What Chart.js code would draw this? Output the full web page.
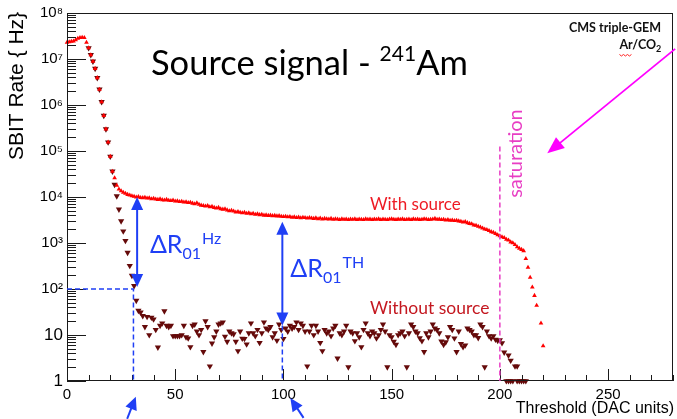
<!DOCTYPE html>
<html>
<head>
<meta charset="utf-8">
<script src="https://cdn.jsdelivr.net/npm/chart.js@4"></script>
<style>
  html, body { margin: 0; padding: 0; background: #fff; }
  canvas { display: block; }
</style>
</head>
<body>
<canvas id="chart" width="677" height="419"></canvas>
<script>
// SBIT rate (Hz) vs threshold (DAC units), one point per DAC unit
const withSourceStart = 0;
const withSourceRate = [
  23000000, 23500000, 24000000, 24500000, 26000000, 28000000, 29000000, 29500000, 29000000, 23000000,
  17400000, 12300000, 8900000, 6200000, 3900000, 2190000, 1170000, 590000, 300000, 155000,
  76000, 36000, 26000, 17800, 14800, 13500, 12600, 12000, 11300, 11000,
  10600, 10300, 9900, 10200, 9700, 9600, 9800, 9400, 9500, 9100,
  9300, 9000, 8800, 9100, 8700, 8500, 8800, 8400, 8300, 8500,
  8100, 8200, 7900, 8000, 7700, 7800, 7500, 7600, 7300, 7100,
  7400, 6900, 6600, 6500, 6300, 6500, 6100, 6200, 5900, 5700,
  5900, 5500, 5400, 5500, 5200, 5000, 5100, 4900, 4700, 4800,
  4600, 4500, 4600, 4400, 4500, 4300, 4400, 4200, 4300, 4100,
  4200, 4000, 4050, 3950, 4000, 3900, 3950, 3850, 3900, 3800,
  3750, 3800, 3700, 3750, 3600, 3700, 3550, 3650, 3500, 3600,
  3550, 3450, 3550, 3450, 3400, 3500, 3350, 3450, 3300, 3400,
  3350, 3300, 3400, 3250, 3350, 3300, 3200, 3350, 3250, 3300,
  3200, 3300, 3250, 3350, 3200, 3300, 3250, 3200, 3350, 3250,
  3300, 3200, 3300, 3250, 3350, 3200, 3300, 3250, 3200, 3300,
  3350, 3250, 3200, 3300, 3250, 3350, 3200, 3250, 3300, 3200,
  3350, 3250, 3300, 3200, 3250, 3350, 3300, 3200, 3250, 3300,
  3400, 3250, 3300, 3200, 3250, 3150, 3200, 3100, 3150, 3050,
  3100, 3000, 2950, 2850, 2900, 2750, 2650, 2600, 2450, 2400,
  2300, 2200, 2100, 2000, 1950, 1850, 1750, 1700, 1600, 1500,
  1420, 1350, 1300, 1200, 1150, 1050, 1000, 920, 820, 760,
  720, 676, 457, 295, 178, 110, 72, 44, null, 18,
  5.8
];

const noSourceStart = 10;
const noSourceRate = [
  17400000, 12300000, 8900000, 6200000, 3900000, 2190000, 1170000, 590000, 300000, 155000,
  76000, 36000, 18600, 10500, 5400, 3000, 1800, 1120, 620, 320,
  195, 117, 56, 34,
  31, 26, 15, 25, 10, 24, 22, 13, 5.4, 16,
  18, 33, 16, 15, 16, 9.5, 9.5, 9.5, 9.5, 10,
  16, 9, 8.5, 5.5, 16, 17, 12, 10, 13, 4.3,
  20, 15, 2.1, 6.6, 9, 12, 17, 18, 19, 9.3,
  7.2, 12, 11, 10.5, 7.2, 4.5, 12, 8.4, 8.3, 6.3,
  11, 18, 11, 9.5, 13, 6.8, 11, 19, 14, 13,
  15, 9, 11, 7.6, 17, 13, 8.3, 14, 12, 16,
  14, 15, 19, 13, 18, 16, 12, 2.1, 12, 16,
  10, 16, 12, 6.8, 4.5, 13, 11, 12, 9.5, 14,
  16, 3.1, 11, 10, 12, 16, 2.0, 12, 11, 7.4,
  11, 9, 5.5, 13, 18, 11, 9.6, 12, 11, 8.5,
  10, 13, 17, 12, 2.0, 10, 9, 7.2, 6.2, 10,
  11, 12, 9.5, 2.0, 11, 17, 15, 12, 11, 8.6,
  7.4, 4.3, 11, 9, 12, 17, 14, 13, 11, 7.3,
  6.2, 7, 9, 15, 13, 8.5, 4.3, 12, 6.4, 5.5,
  6, 14, 13, 12, 10, 10, 8.7, 17, 15, 2.0,
  12, 9.5, 8.5, 9.5, 8, 7.5, 7.8, 6.7, 4.2, null,
  3.6, 2.8, null, 2.1, 2.1
];
// thresholds where the rate without source sits at the 1 Hz floor
const noSourceFloor = [203, 204, 205, 206, 208, 209, 210, 211, 212];

const xTicks = [0, 50, 100, 150, 200, 250];
const yTicks = [1, 10, 100, 1e3, 1e4, 1e5, 1e6, 1e7, 1e8];
const yTickLabels = ['1', '10', '10²', '10³', '10⁴', '10⁵', '10⁶', '10⁷', '10⁸'];

const BLUE = '#1f3ff5';
const MAGENTA = '#ff00ff';
const PINK = '#e83ec4';

function toPoints(start, rates) {
  return rates
    .map((r, i) => ({ x: start + i, y: r }))
    .filter(p => p.y != null);
}

const noSourcePoints = toPoints(noSourceStart, noSourceRate)
  .concat(noSourceFloor.map(t => ({ x: t, y: 1 })));

function arrowHead(ctx, fromX, fromY, toX, toY, len, half) {
  const ang = Math.atan2(toY - fromY, toX - fromX);
  const bx = toX - len * Math.cos(ang);
  const by = toY - len * Math.sin(ang);
  ctx.beginPath();
  ctx.moveTo(toX, toY);
  ctx.lineTo(bx + half * Math.sin(ang), by - half * Math.cos(ang));
  ctx.lineTo(bx - half * Math.sin(ang), by + half * Math.cos(ang));
  ctx.closePath();
  ctx.fill();
}

function arrow(ctx, x0, y0, x1, y1, color, width, len, half) {
  const ang = Math.atan2(y1 - y0, x1 - x0);
  ctx.strokeStyle = color;
  ctx.fillStyle = color;
  ctx.lineWidth = width;
  ctx.beginPath();
  ctx.moveTo(x0, y0);
  ctx.lineTo(x1 - (len - 2) * Math.cos(ang), y1 - (len - 2) * Math.sin(ang));
  ctx.stroke();
  arrowHead(ctx, x0, y0, x1, y1, len, half);
}

function doubleArrow(ctx, x, yTop, yBottom) {
  ctx.strokeStyle = BLUE;
  ctx.fillStyle = BLUE;
  ctx.lineWidth = 2;
  ctx.beginPath();
  ctx.moveTo(x, yTop + 10);
  ctx.lineTo(x, yBottom - 10);
  ctx.stroke();
  arrowHead(ctx, x, yBottom, x, yTop, 13, 6);
  arrowHead(ctx, x, yTop, x, yBottom, 13, 6);
}

function deltaLabel(ctx, left, base, sup) {
  ctx.fillStyle = BLUE;
  ctx.font = '25px Lato';
  ctx.fillText('ΔR', left, base);
  const w = ctx.measureText('ΔR').width;
  ctx.font = '16px Lato';
  ctx.fillText('01', left + w, base + 6);
  const w2 = ctx.measureText('01').width;
  ctx.fillText(sup, left + w + w2 + 1, base - 9);
}

// ROOT-style frame with inward tick marks
const frameAndTicks = {
  id: 'frameAndTicks',
  afterDatasetsDraw(chart) {
    const { ctx, chartArea: a, scales: { x, y } } = chart;
    ctx.save();
    ctx.strokeStyle = '#1a1a1a';
    ctx.lineWidth = 1;
    ctx.beginPath();
    for (let v = 0; v <= 280; v += 10) {
      const p = Math.round(x.getPixelForValue(v)) + 0.5;
      const len = v % 50 === 0 ? 12 : 6;
      ctx.moveTo(p, a.bottom);
      ctx.lineTo(p, a.bottom - len);
    }
    for (let d = 0; d <= 8; d++) {
      for (let m = 1; m <= 9; m++) {
        const v = m * Math.pow(10, d);
        if (v > 1e8) break;
        const p = Math.round(y.getPixelForValue(v)) + 0.5;
        ctx.moveTo(a.left, p);
        ctx.lineTo(a.left + (m === 1 ? 19 : 9), p);
      }
    }
    ctx.stroke();
    ctx.strokeRect(Math.round(a.left) + 0.5, Math.round(a.top) + 0.5,
      Math.round(a.right - a.left) - 1, Math.round(a.bottom - a.top) - 1);
    ctx.restore();
  }
};

const annotations = {
  id: 'annotations',
  afterDraw(chart) {
    const { ctx, scales: { x, y } } = chart;
    const px = v => x.getPixelForValue(v);
    const py = v => y.getPixelForValue(v);
    ctx.save();

    // dashed guides
    ctx.setLineDash([5, 3]);
    ctx.lineWidth = 1.5;
    ctx.strokeStyle = BLUE;
    ctx.beginPath();
    ctx.moveTo(px(0), py(100));
    ctx.lineTo(px(30.7), py(100));
    ctx.lineTo(px(30.7), py(1));
    ctx.moveTo(px(99.5), py(16));
    ctx.lineTo(px(99.5), py(1));
    ctx.stroke();
    ctx.strokeStyle = PINK;
    ctx.beginPath();
    ctx.moveTo(px(200), py(1.25e5));
    ctx.lineTo(px(200), py(1));
    ctx.stroke();
    ctx.setLineDash([]);

    // arrows
    doubleArrow(ctx, px(32.4), py(1e4), py(110));
    doubleArrow(ctx, px(99.5), py(2900), py(16));
    arrow(ctx, px(27.8), py(0.151), px(31.8), py(0.457), BLUE, 2, 13, 6);
    arrow(ctx, px(109.3), py(0.158), px(103.2), py(0.427), BLUE, 2, 13, 6);
    arrow(ctx, px(281), py(1.66e7), px(221.9), py(8.9e4), MAGENTA, 1.8, 17, 7);

    // title
    ctx.textAlign = 'left';
    ctx.textBaseline = 'alphabetic';
    ctx.fillStyle = '#000';
    let tx = px(38.8);
    const ty = py(4.4e6);
    ctx.font = '34.5px Lato';
    ctx.fillText('Source signal - ', tx, ty);
    tx += ctx.measureText('Source signal - ').width;
    ctx.font = '21px Lato';
    ctx.fillText('241', tx, ty - 14);
    tx += ctx.measureText('241').width;
    ctx.font = '34.5px Lato';
    ctx.fillText('Am', tx, ty);

    // series labels
    ctx.font = '17px Lato';
    ctx.fillStyle = '#ee1b24';
    ctx.fillText('With source', px(140), py(5100));
    ctx.font = '17.5px Lato';
    ctx.fillStyle = '#c41820';
    ctx.fillText('Without source', px(140), py(28));

    deltaLabel(ctx, px(38.3), py(621), 'Hz');
    deltaLabel(ctx, px(103.2), py(185), 'TH');

    // detector label
    ctx.fillStyle = '#111';
    ctx.textAlign = 'right';
    ctx.font = 'bold 12.5px Lato';
    ctx.fillText('CMS triple-GEM', px(274.5), py(3.81e7));
    const right = px(274.6), base = py(1.61e7);
    ctx.font = 'bold 9px Lato';
    const w2 = ctx.measureText('2').width;
    ctx.fillText('2', right, base + 3);
    ctx.font = 'bold 12.5px Lato';
    ctx.fillText('Ar/CO', right - w2, base);
    const start = right - w2 - ctx.measureText('Ar/CO').width;
    const arW = ctx.measureText('Ar').width;
    ctx.strokeStyle = '#ff2020';
    ctx.lineWidth = 1;
    ctx.beginPath();
    for (let i = 0; i <= arW; i += 2) {
      const yy = base + 5 + ((i / 2) % 2 === 0 ? 0 : 1.5);
      if (i === 0) ctx.moveTo(start + i, yy); else ctx.lineTo(start + i, yy);
    }
    ctx.stroke();

    // saturation label
    ctx.save();
    ctx.translate(px(207.4), py(8.8e4));
    ctx.rotate(-Math.PI / 2);
    ctx.textAlign = 'center';
    ctx.textBaseline = 'middle';
    ctx.fillStyle = PINK;
    ctx.font = '20px Lato';
    ctx.fillText('saturation', 0, 0);
    ctx.restore();

    // axis titles
    ctx.fillStyle = '#000';
    ctx.textAlign = 'right';
    ctx.textBaseline = 'alphabetic';
    ctx.font = '16px "Liberation Sans"';
    ctx.fillText('Threshold (DAC units)', x.right + 1, x.bottom - 6);
    ctx.save();
    ctx.translate(y.left + 17, 86);
    ctx.rotate(-Math.PI / 2);
    ctx.textAlign = 'center';
    ctx.textBaseline = 'middle';
    ctx.font = '21px "Liberation Sans"';
    ctx.fillText('SBIT Rate { Hz}', 0, 0);
    ctx.restore();

    ctx.restore();
  }
};

new Chart(document.getElementById('chart'), {
  type: 'scatter',
  data: {
    datasets: [
      {
        label: 'With source',
        data: toPoints(withSourceStart, withSourceRate),
        pointStyle: 'triangle',
        pointRadius: 2.7,
        pointBackgroundColor: '#ff0000',
        pointBorderColor: '#ff0000',
        pointBorderWidth: 0,
        clip: false
      },
      {
        label: 'Without source',
        data: noSourcePoints,
        pointStyle: 'triangle',
        pointRotation: 180,
        pointRadius: 3.6,
        pointBackgroundColor: '#650a0a',
        pointBorderColor: '#650a0a',
        pointBorderWidth: 0,
        clip: false
      }
    ]
  },
  options: {
    responsive: false,
    animation: false,
    devicePixelRatio: 1,
    layout: { padding: { top: 11, right: 1, left: 0, bottom: 0 } },
    plugins: {
      legend: { display: false },
      tooltip: { enabled: false }
    },
    scales: {
      x: {
        type: 'linear',
        min: 0,
        max: 280,
        afterBuildTicks: s => { s.ticks = xTicks.map(v => ({ value: v })); },
        afterFit: s => { s.height = 38; },
        grid: { display: false, drawTicks: false },
        border: { display: false },
        ticks: {
          padding: 5,
          color: '#000',
          maxRotation: 0,
          autoSkip: false,
          font: { family: 'Liberation Sans', size: 15 },
          callback: v => String(v)
        }
      },
      y: {
        type: 'logarithmic',
        min: 1,
        max: 1e8,
        afterBuildTicks: s => { s.ticks = yTicks.map(v => ({ value: v })); },
        afterFit: s => { s.width = 67; },
        grid: { display: false, drawTicks: false },
        border: { display: false },
        ticks: {
          padding: 4,
          color: '#000',
          autoSkip: false,
          font: c => ({ family: 'Liberation Sans', size: c.tick && c.tick.value < 100 ? 17 : 15 }),
          callback: (v, i) => yTickLabels[i]
        }
      }
    }
  },
  plugins: [frameAndTicks, annotations]
});
</script>
</body>
</html>
